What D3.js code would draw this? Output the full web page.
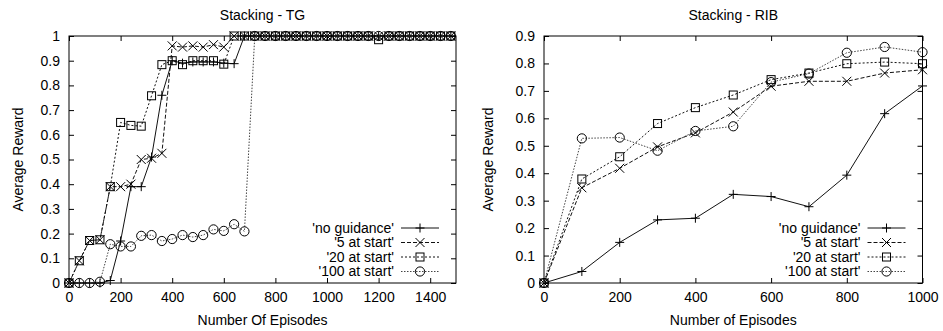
<!DOCTYPE html>
<html>
<head>
<meta charset="utf-8">
<script src="https://cdn.jsdelivr.net/npm/d3@7"></script>
<style>
  body { margin: 0; background: #fff; }
  text { font-family: "Liberation Sans", Arial, Helvetica, sans-serif; fill: #000; }
</style>
</head>
<body>
<svg id="chart" width="943" height="331"></svg>
<script>
// --- data ---
var seriesNames = ["'no guidance'", "'5 at start'", "'20 at start'", "'100 at start'"];

// Stacking - TG
var tgEpisodes = [0, 40, 80, 120, 160, 200, 240, 280, 320, 360, 400, 440, 480, 520, 560, 600, 640, 680, 720,
  760, 800, 840, 880, 920, 960, 1000, 1040, 1080, 1120, 1160, 1200, 1240, 1280, 1320, 1360, 1400, 1440, 1480];
var tgNoGuidance = [0, 0, 0, 0, 0.01, 0.17, 0.39, 0.39, 0.51, 0.76, 0.9, 0.89, 0.895, 0.895, 0.895, 0.89, 0.888, 1, 1,
  1, 1, 1, 1, 1, 1, 1, 1, 1, 1, 1, 1, 1, 1, 1, 1, 1, 1, 1];
var tg5AtStart = [0, 0.09, 0.172, 0.175, 0.39, 0.39, 0.40, 0.50, 0.505, 0.525, 0.96, 0.955, 0.96, 0.955, 0.965, 0.955, 1, 1, 1,
  1, 1, 1, 1, 1, 1, 1, 1, 1, 1, 1, 1, 1, 1, 1, 1, 1, 1, 1];
var tg20AtStart = [0, 0.09, 0.172, 0.175, 0.39, 0.65, 0.638, 0.635, 0.758, 0.884, 0.9, 0.884, 0.9, 0.9, 0.9, 0.886, 1, 1, 1,
  1, 1, 1, 1, 1, 1, 1, 1, 1, 1, 1, 0.985, 1, 1, 1, 1, 1, 1, 1];
var tg100AtStart = [0, 0, 0, 0.005, 0.157, 0.148, 0.148, 0.191, 0.194, 0.17, 0.178, 0.194, 0.186, 0.194, 0.217, 0.211, 0.238, 0.209, 1,
  1, 1, 1, 1, 1, 1, 1, 1, 1, 1, 1, 1, 1, 1, 1, 1, 1, 1, 1];
var tgXTicks = [0, 200, 400, 600, 800, 1000, 1200, 1400];
var tgYTicks = [0, 0.1, 0.2, 0.3, 0.4, 0.5, 0.6, 0.7, 0.8, 0.9, 1];

// Stacking - RIB
var ribEpisodes = [0, 100, 200, 300, 400, 500, 600, 700, 800, 900, 1000];
var ribNoGuidance = [0, 0.042, 0.148, 0.23, 0.236, 0.323, 0.315, 0.278, 0.393, 0.617, 0.718];
var rib5AtStart = [0, 0.347, 0.418, 0.496, 0.547, 0.623, 0.717, 0.735, 0.735, 0.765, 0.777];
var rib20AtStart = [0, 0.379, 0.46, 0.581, 0.639, 0.685, 0.741, 0.765, 0.799, 0.805, 0.799];
var rib100AtStart = [0, 0.527, 0.53, 0.482, 0.554, 0.571, 0.732, 0.763, 0.839, 0.86, 0.841];
var ribXTicks = [0, 200, 400, 600, 800, 1000];
var ribYTicks = [0, 0.1, 0.2, 0.3, 0.4, 0.5, 0.6, 0.7, 0.8, 0.9];

// line styles per series
var styles = [
  {dash: null, color: "#111", mark: "plus"},
  {dash: "4,2", color: "#111", mark: "cross"},
  {dash: "2,2", color: "#111", mark: "square"},
  {dash: "1.5,1.5", color: "#444", mark: "circle"}
];

var svg = d3.select("#chart");

function drawMark(g, type, x, y) {
  var s = 4.5;
  if (type == "plus") {
    g.append("path").attr("d", "M" + (x - s) + "," + y + "H" + (x + s) + "M" + x + "," + (y - s) + "V" + (y + s))
      .attr("stroke", "#000").attr("fill", "none");
  } else if (type == "cross") {
    g.append("path").attr("d", "M" + (x - s) + "," + (y - s) + "L" + (x + s) + "," + (y + s) + "M" + (x - s) + "," + (y + s) + "L" + (x + s) + "," + (y - s))
      .attr("stroke", "#000").attr("fill", "none");
  } else if (type == "square") {
    g.append("rect").attr("x", x - 4).attr("y", y - 4).attr("width", 8).attr("height", 8)
      .attr("stroke", "#000").attr("fill", "none");
  } else {
    g.append("circle").attr("cx", x).attr("cy", y).attr("r", 4.6)
      .attr("stroke", "#000").attr("fill", "none");
  }
}

function drawChart(cfg) {
  var x = d3.scaleLinear().domain(cfg.xDomain).range([cfg.left, cfg.right]);
  var y = d3.scaleLinear().domain(cfg.yDomain).range([cfg.bottom, cfg.top]);
  var g = svg.append("g");
  var tl = 5;

  //枠
  g.append("rect").attr("x", cfg.left).attr("y", cfg.top)
    .attr("width", cfg.right - cfg.left).attr("height", cfg.bottom - cfg.top)
    .attr("fill", "none").attr("stroke", "#000").attr("stroke-width", 1);

  //目盛り（内向き、上下左右）
  var axB = d3.axisBottom(x).tickValues(cfg.xTicks).tickSizeInner(-tl).tickSizeOuter(0).tickPadding(9)
    .tickFormat(d3.format("d"));
  var axL = d3.axisLeft(y).tickValues(cfg.yTicks).tickSizeInner(-tl).tickSizeOuter(0).tickPadding(9)
    .tickFormat(function(d) { return String(+d.toFixed(1)); });
  var bx = g.append("g").attr("transform", "translate(0," + cfg.bottom + ")").call(axB);
  var ly = g.append("g").attr("transform", "translate(" + cfg.left + ",0)").call(axL);
  var tx = g.append("g").attr("transform", "translate(0," + cfg.top + ")")
    .call(d3.axisTop(x).tickValues(cfg.xTicks).tickSizeInner(-tl).tickSizeOuter(0).tickFormat(""));
  var ry = g.append("g").attr("transform", "translate(" + cfg.right + ",0)")
    .call(d3.axisRight(y).tickValues(cfg.yTicks).tickSizeInner(-tl).tickSizeOuter(0).tickFormat(""));
  [bx, ly, tx, ry].forEach(function(a) {
    a.select(".domain").remove();
    a.selectAll("line").attr("stroke", "#000");
    a.selectAll("text").attr("font-size", "14px").attr("font-family", "Liberation Sans, Arial, sans-serif").attr("fill", "#000");
  });

  //線とマーカー
  cfg.series.forEach(function(vals, k) {
    var st = styles[k];
    var line = d3.line().x(function(d, i) { return x(cfg.xs[i]); }).y(function(d) { return y(d); });
    g.append("path").datum(vals).attr("d", line)
      .attr("fill", "none").attr("stroke", st.color).attr("stroke-width", 1)
      .attr("stroke-dasharray", st.dash);
    var mg = g.append("g");
    vals.forEach(function(v, i) { drawMark(mg, st.mark, x(cfg.xs[i]), y(v)); });
  });

  //凡例
  var lg = g.append("g");
  seriesNames.forEach(function(name, k) {
    var st = styles[k];
    var yy = 228 + k * 14.5;
    lg.append("text").attr("x", cfg.right - 62).attr("y", yy).attr("dy", "0.35em")
      .attr("text-anchor", "end").attr("font-size", "14px").text(name);
    lg.append("line").attr("x1", cfg.right - 55).attr("x2", cfg.right - 17).attr("y1", yy).attr("y2", yy)
      .attr("stroke", st.color).attr("stroke-dasharray", st.dash);
    drawMark(lg, st.mark, cfg.right - 36, yy);
  });

  //タイトル・軸ラベル
  var cx = (cfg.left + cfg.right) / 2;
  g.append("text").attr("x", cx).attr("y", 20).attr("text-anchor", "middle").attr("font-size", "14px").text(cfg.title);
  g.append("text").attr("x", cx).attr("y", 325).attr("text-anchor", "middle").attr("font-size", "14px").text(cfg.xLabel);
  g.append("text").attr("transform", "translate(" + cfg.yLabelX + "," + ((cfg.top + cfg.bottom) / 2) + ") rotate(-90)")
    .attr("text-anchor", "middle").attr("font-size", "14px").text("Average Reward");
}

drawChart({
  title: "Stacking - TG", xLabel: "Number Of Episodes", yLabelX: 23,
  left: 69, right: 456, top: 36, bottom: 283,
  xDomain: [0, 1500], yDomain: [0, 1], xTicks: tgXTicks, yTicks: tgYTicks,
  xs: tgEpisodes, series: [tgNoGuidance, tg5AtStart, tg20AtStart, tg100AtStart]
});

drawChart({
  title: "Stacking - RIB", xLabel: "Number of Episodes", yLabelX: 493,
  left: 544, right: 922.5, top: 36, bottom: 283,
  xDomain: [0, 1000], yDomain: [0, 0.9], xTicks: ribXTicks, yTicks: ribYTicks,
  xs: ribEpisodes, series: [ribNoGuidance, rib5AtStart, rib20AtStart, rib100AtStart]
});
</script>
</body>
</html>
